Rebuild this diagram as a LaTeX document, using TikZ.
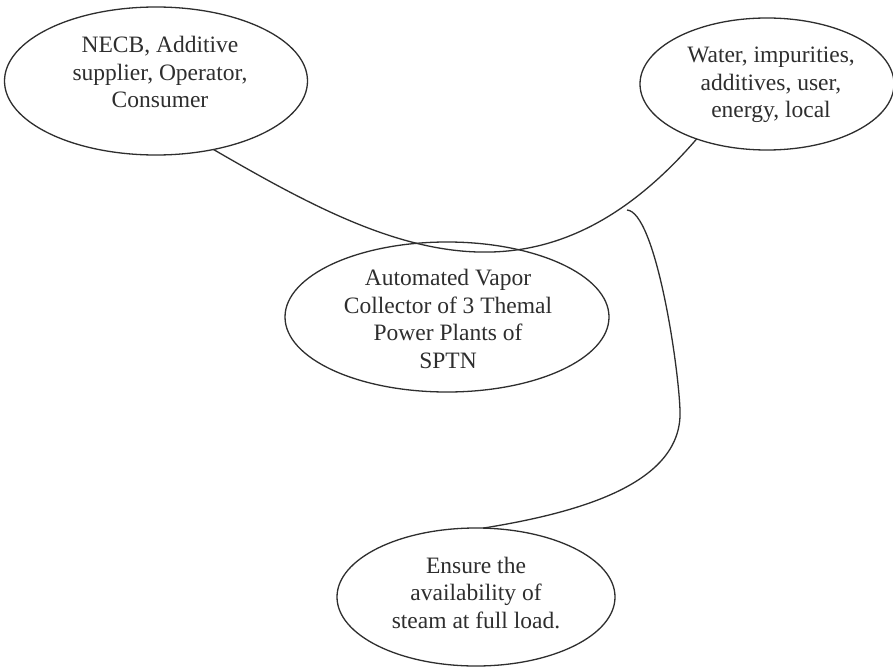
\documentclass[tikz,border=0pt]{standalone}
\usepackage{fontspec}
\setmainfont{Liberation Serif}
\usetikzlibrary{shapes.geometric}
\definecolor{ink}{HTML}{2E2E2E}
\begin{document}
\begin{tikzpicture}[x=1pt,y=-1pt,
  oval/.style={ellipse, draw=ink, line width=1.3pt, inner sep=0pt, outer sep=0pt},
  lbl/.style={align=center, text=ink, font=\fontsize{23.5}{27.5}\selectfont, inner sep=0pt},
  link/.style={draw=ink, line width=1.3pt}]
\fill[white] (0,0) rectangle (893,666);
\useasboundingbox (0,0) rectangle (893,666);
\node[oval, minimum width=303pt, minimum height=148pt] (e1) at (156,81) {};
\node[oval, minimum width=254pt, minimum height=132pt] (e2) at (767,84) {};
\node[oval, minimum width=324pt, minimum height=150pt] (e3) at (447,317) {};
\node[oval, minimum width=278pt, minimum height=138pt] (e4) at (476,597) {};
\node[lbl] (t1) at (160,72) {NECB, Additive\\supplier, Operator,\\Consumer};
\node[lbl] (t2) at (771,85) {Water, impurities,\\additives, user,\\energy, local};
\node[lbl] (t3) at (448,319) {Automated Vapor\\Collector of 3 Themal\\Power Plants of\\SPTN};
\node[lbl] (t4) at (476,593) {Ensure the\\availability of\\steam at full load.};
\draw[link] (e1.-50) .. controls (380,246) and (535,326) .. (e2.-142);
\coordinate (hook) at (627,210);
\draw[link] (hook) .. controls (655,212) and (678,360) .. (680,410)
  .. controls (683,480) and (590,511) .. (e4.84);
\end{tikzpicture}
\end{document}
